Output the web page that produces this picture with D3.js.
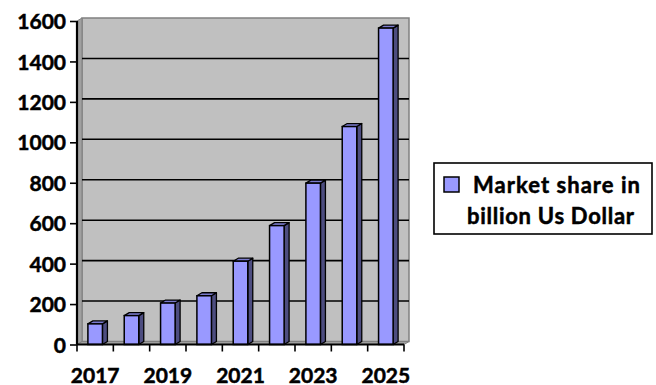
<!DOCTYPE html>
<html>
<head>
<meta charset="utf-8">
<script src="https://cdn.jsdelivr.net/npm/d3@7"></script>
<style>
  html, body { margin: 0; padding: 0; background: #ffffff; }
  svg { display: block; }
  text { font-family: Lato, "Open Sans", sans-serif; font-weight: 700; fill: #000; stroke: #000; stroke-width: 0.5px; }
</style>
</head>
<body>
<svg id="chart" width="656" height="385"></svg>
<script>
const categories = ["2017", "2018", "2019", "2020", "2021", "2022", "2023", "2024", "2025"];
const values = [102, 143, 205, 241, 412, 588, 798, 1078, 1565];
const yTicks = [0, 200, 400, 600, 800, 1000, 1200, 1400, 1600];
const xLabels = ["2017", "2019", "2021", "2023", "2025"];
const seriesName = ["Market share in", "billion Us Dollar"];

const svg = d3.select("#chart");
const W = 656, H = 385;
svg.append("rect").attr("width", W).attr("height", H).attr("fill", "#fff");

// front plane
const fx0 = 77, fx1 = 404, fy0 = 344.5, fy1 = 21;
const dx = 5, dy = -3; // depth offset

const x = d3.scaleBand().domain(categories).range([fx0, fx1]).paddingInner(0).paddingOuter(0);
const y = d3.scaleLinear().domain([0, 1600]).range([fy0, fy1]);

const g = svg.append("g");

// back wall
g.append("rect")
  .attr("x", fx0 + dx).attr("y", fy1 + dy)
  .attr("width", fx1 - fx0).attr("height", fy0 - fy1)
  .attr("fill", "#c0c0c0").attr("stroke", "#808080").attr("stroke-width", 1.5);

// left side wall
g.append("polygon")
  .attr("points", [[fx0, fy1], [fx0 + dx, fy1 + dy], [fx0 + dx, fy0 + dy], [fx0, fy0]].map(p => p.join(",")).join(" "))
  .attr("fill", "#a0a0a0").attr("stroke", "#808080").attr("stroke-width", 1);

// floor
g.append("polygon")
  .attr("points", [[fx0, fy0], [fx1, fy0], [fx1 + dx, fy0 + dy], [fx0 + dx, fy0 + dy]].map(p => p.join(",")).join(" "))
  .attr("fill", "#a0a0a0").attr("stroke", "#808080").attr("stroke-width", 1);

// gridlines on back wall
g.selectAll("line.grid").data(yTicks.filter(d => d > 0 && d < 1600)).enter()
  .append("line").attr("class", "grid")
  .attr("x1", fx0 + dx).attr("x2", fx1 + dx)
  .attr("y1", d => y(d) + dy).attr("y2", d => y(d) + dy)
  .attr("stroke", "#000").attr("stroke-width", 1.6);

// bars
const bw = x.bandwidth() * 0.4;
const bars = g.selectAll("g.bar").data(categories.map((c, i) => ({ c, v: values[i] }))).enter()
  .append("g").attr("class", "bar");

bars.each(function (d) {
  const sel = d3.select(this);
  const cx = x(d.c) + x.bandwidth() / 2;
  const l = cx - bw / 2, r = cx + bw / 2, t = y(d.v), b = y(0);
  // side
  sel.append("polygon")
    .attr("points", [[r, t], [r + dx, t + dy], [r + dx, b + dy], [r, b]].map(p => p.join(",")).join(" "))
    .attr("fill", "#4d4d80").attr("stroke", "#000").attr("stroke-width", 1.3).attr("stroke-linejoin", "round");
  // top
  sel.append("polygon")
    .attr("points", [[l, t], [l + dx, t + dy], [r + dx, t + dy], [r, t]].map(p => p.join(",")).join(" "))
    .attr("fill", "#7a7acc").attr("stroke", "#000").attr("stroke-width", 1.3).attr("stroke-linejoin", "round");
  // front
  sel.append("rect")
    .attr("x", l).attr("y", t).attr("width", bw).attr("height", b - t)
    .attr("fill", "#9999ff").attr("stroke", "#000").attr("stroke-width", 1.5);
});

// y axis
const yAxis = d3.axisLeft(y).tickValues(yTicks).tickSize(7).tickPadding(4).tickFormat(d3.format("d"));
const ya = svg.append("g").attr("transform", `translate(${fx0},0)`).call(yAxis);
ya.select(".domain").attr("stroke", "#000").attr("stroke-width", 2.2).attr("d", `M0,${fy1}V${fy0}`);
ya.selectAll(".tick line").attr("stroke", "#000").attr("stroke-width", 1.6);
ya.selectAll(".tick text").attr("font-size", 21).attr("font-family", "Lato, sans-serif").attr("font-weight", 700).attr("fill", "#000").attr("dy", "0.36em");

// x axis
const xa = svg.append("g").attr("transform", `translate(0,${fy0})`);
xa.append("line").attr("x1", fx0).attr("x2", fx1).attr("y1", 0).attr("y2", 0).attr("stroke", "#000").attr("stroke-width", 2.2);
const bounds = categories.map(c => x(c)).concat([x(categories[categories.length - 1]) + x.bandwidth()]);
xa.selectAll("line.xt").data(bounds).enter().append("line").attr("class", "xt")
  .attr("x1", d => d).attr("x2", d => d).attr("y1", 0).attr("y2", 7)
  .attr("stroke", "#000").attr("stroke-width", 1.6);
xa.selectAll("text.xl").data(xLabels).enter().append("text").attr("class", "xl")
  .attr("x", d => x(d) + x.bandwidth() / 2).attr("y", 38)
  .attr("text-anchor", "middle").attr("font-size", 21).text(d => d);

// legend
const lg = svg.append("g");
lg.append("rect").attr("x", 434).attr("y", 163).attr("width", 218).attr("height", 71)
  .attr("fill", "#fff").attr("stroke", "#000").attr("stroke-width", 1.6);
lg.append("rect").attr("x", 444).attr("y", 177).attr("width", 15).attr("height", 15)
  .attr("fill", "#9999ff").attr("stroke", "#000").attr("stroke-width", 1.5);
lg.append("text").attr("x", 473).attr("y", 193).attr("font-size", 22).attr("textLength", 167).attr("lengthAdjust", "spacing").text(seriesName[0]);
lg.append("text").attr("x", 467).attr("y", 224).attr("font-size", 22).attr("textLength", 167).attr("lengthAdjust", "spacing").text(seriesName[1]);
</script>
</body>
</html>
